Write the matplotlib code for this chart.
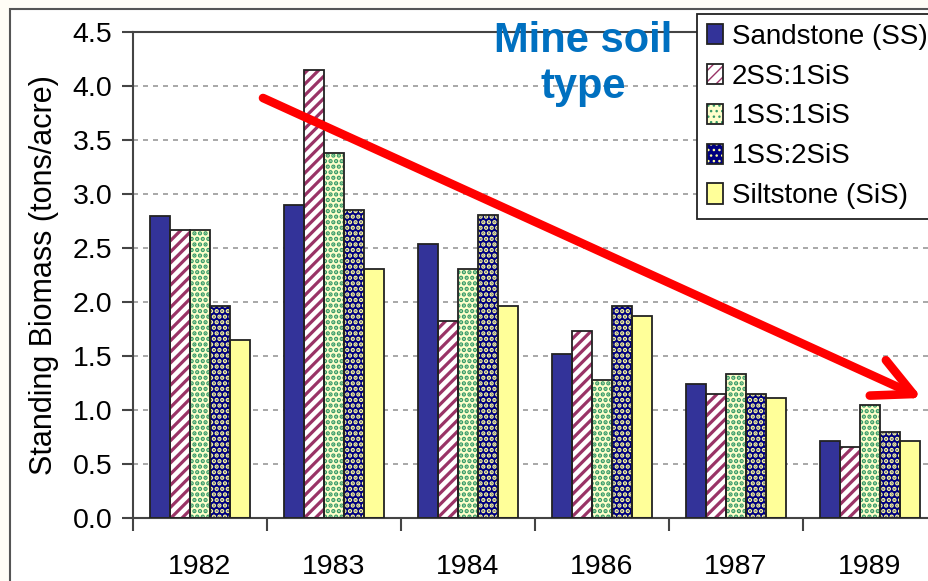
import numpy as np
import matplotlib
matplotlib.use('Agg')
import matplotlib.pyplot as plt
from matplotlib.patches import Patch, Rectangle

plt.rcParams['font.family'] = ['Liberation Sans', 'DejaVu Sans']

# data
years = ['1982', '1983', '1984', '1986', '1987', '1989']
soil_types = ['Sandstone (SS)', '2SS:1SiS', '1SS:1SiS', '1SS:2SiS', 'Siltstone (SiS)']
sandstone = [2.80, 2.90, 2.54, 1.52, 1.24, 0.71]
ss2_sis1 = [2.67, 4.15, 1.82, 1.73, 1.15, 0.66]
ss1_sis1 = [2.67, 3.38, 2.31, 1.28, 1.33, 1.05]
ss1_sis2 = [1.96, 2.85, 2.81, 1.96, 1.15, 0.80]
siltstone = [1.65, 2.31, 1.96, 1.87, 1.11, 0.71]
series = [sandstone, ss2_sis1, ss1_sis1, ss1_sis2, siltstone]

# style per series: face, hatch, hatch colour, hatch linewidth
styles = [
    ('#333399', None, '#333399', 1.0),
    ('#ffffff', '///', '#993366', 2.3),
    ('#ffffcc', '...', '#339966', 2.2),
    ('#000080', '...', '#ffff99', 2.2),
    ('#ffff99', None, '#ffff99', 1.0),
]

fig = plt.figure(figsize=(9.29, 5.81), dpi=100)
fig.patch.set_facecolor('#fffdf6')
# white slide panel with border
fig.patches.append(Rectangle((10 / 929, -0.1), 1.2, 1 - 9 / 581 + 0.1,
                             transform=fig.transFigure, facecolor='white',
                             edgecolor='#555555', lw=1.5, zorder=-5))

ax = fig.add_axes([133 / 929, 1 - 518 / 581, 804 / 929, 486 / 581])
ax.set_facecolor('none')
ax.set_zorder(1)

x = np.arange(len(years))
w = 0.149
handles = []
for i, (vals, (fc, hatch, hc, hlw)) in enumerate(zip(series, styles)):
    pos = x + (i - 2) * w
    with plt.rc_context({'hatch.linewidth': hlw}):
        fill = ax.bar(pos, vals, w, color=fc, edgecolor=hc, hatch=hatch, lw=0, zorder=2)
        for p in fill:
            if hasattr(p, 'set_hatch_linewidth'):
                p.set_hatch_linewidth(hlw)
    ax.bar(pos, vals, w, fill=False, edgecolor='#222222', lw=1.3, zorder=3)
    with plt.rc_context({'hatch.linewidth': hlw}):
        hp = Patch(facecolor=fc, edgecolor=hc, hatch=hatch, lw=0)
        if hasattr(hp, 'set_hatch_linewidth'):
            hp.set_hatch_linewidth(hlw)
    he = Patch(fill=False, edgecolor='#222222', lw=1.3)
    handles.append((hp, he))

ax.set_xlim(-0.5, len(years) - 0.5)
ax.set_ylim(0, 4.5)
ax.set_yticks(np.arange(0, 4.51, 0.5))
ax.set_yticklabels([f'{v:.1f}' for v in np.arange(0, 4.51, 0.5)])
ax.set_xticks(x)
ax.set_xticklabels(years)
ax.set_xticks(np.arange(-0.5, len(years)), minor=True)
ax.tick_params(axis='x', which='major', length=0, pad=26, labelsize=20.5)
ax.tick_params(axis='x', which='minor', length=9, width=1.5, direction='out', color='#444444')
ax.tick_params(axis='y', length=8, width=1.5, direction='out', color='#444444', labelsize=20.5, pad=7)
ax.yaxis.grid(True, linestyle=(0, (3, 3)), color='#999999', lw=1.2, zorder=0)
ax.set_axisbelow(True)
for s in ['left', 'bottom', 'top']:
    ax.spines[s].set_color('#444444')
    ax.spines[s].set_linewidth(1.5)
ax.spines['right'].set_visible(False)
ax.set_ylabel('Standing Biomass (tons/acre)', fontsize=22, labelpad=10)

leg = fig.legend(handles, soil_types, loc='upper left',
                 bbox_to_anchor=(697 / 929, 1 - 14 / 581), bbox_transform=fig.transFigure,
                 borderaxespad=0, fontsize=20, frameon=True, fancybox=False,
                 edgecolor='#222222', framealpha=1, handlelength=0.6, handleheight=0.75,
                 handletextpad=0.3, labelspacing=0.5, borderpad=0.35)
leg.get_frame().set_linewidth(1.3)
leg.set_zorder(5)

fig.text(583 / 929, 1 - 64 / 581, 'Mine soil\ntype', color='#0070c0', fontsize=30,
         fontweight='bold', ha='center', va='center', linespacing=1.2, zorder=6)

ax.annotate('', xy=(922 / 929, 1 - 398 / 581), xytext=(263 / 929, 1 - 98 / 581),
            xycoords='figure fraction', textcoords='figure fraction',
            arrowprops=dict(arrowstyle='->,head_length=1.4,head_width=0.7',
                            color='#ff0000', lw=6.2, mutation_scale=20,
                            shrinkA=0, shrinkB=0), zorder=10)

fig.savefig('out.png', dpi=100, facecolor=fig.get_facecolor())
